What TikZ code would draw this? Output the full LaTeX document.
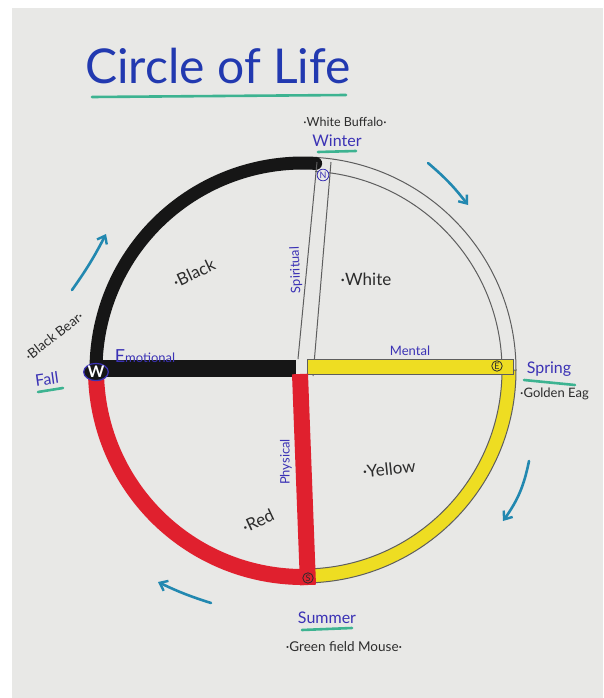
\documentclass[tikz,border=0pt]{standalone}
\usepackage{fontspec}
\setmainfont{Lato}
\usetikzlibrary{arrows.meta,shapes.geometric}
\definecolor{paper}{HTML}{E8E8E6}
\definecolor{ink}{HTML}{2C2C2C}
\definecolor{pen}{HTML}{3B32B5}
\definecolor{titleblue}{HTML}{2239B0}
\definecolor{hlteal}{HTML}{3DB391}
\definecolor{arrowblue}{HTML}{2288B0}
\definecolor{wheelred}{HTML}{E0202E}
\definecolor{wheelyellow}{HTML}{EEDD22}
\definecolor{ringgray}{HTML}{5E5E5E}
\definecolor{wheelblack}{HTML}{161616}
\tikzset{
  lbl/.style={font=\fontsize{14}{14}\selectfont, text=ink, inner sep=1pt},
  penlbl/.style={font=\fontsize{13}{13}\selectfont, text=pen, inner sep=1pt},
  season/.style={font=\fontsize{16}{16}\selectfont, text=pen, inner sep=1pt},
  uline/.style={hlteal, line width=2.6, line cap=round},
  turn/.style={arrowblue, line width=2.6, line cap=round, -{Straight Barb[length=7pt,width=11pt,line width=2.4pt]}},
  ringline/.style={ringgray, line width=1},
  dirmark/.style={circle, draw=ink, line width=0.8, inner sep=0.8pt, font=\fontsize{9}{9}\selectfont, text=ink},
}
\begin{document}
\begin{tikzpicture}[x=1pt,y=-1pt]
\useasboundingbox (0,0) rectangle (603,698);
\fill[white] (0,0) rectangle (603,698);
\fill[paper] (12,8) rectangle (603,698);
\coordinate (C) at (303,370);

% title
\node[font=\fontsize{48}{48}\selectfont, text=titleblue, inner sep=0] (title) at (218,66) {Circle of Life};
\coordinate (tu1) at (92,97); \coordinate (tu2) at (346,95);
\draw[uline] (tu1) -- (tu2);

% red outer band (west to south)
\fill[wheelred, shift={(C)}] (89:199) arc[start angle=89,end angle=180,radius=199]
  -- (180:215) arc[start angle=180,end angle=89,radius=215] -- cycle;
% yellow outer band (south to east)
\filldraw[fill=wheelyellow, draw=ringgray, line width=1, shift={(C)}] (0:199) arc[start angle=0,end angle=89,radius=199]
  -- (89:213) arc[start angle=89,end angle=0,radius=213] -- cycle;
% white outer band (north to east)
\draw[ringline, shift={(C)}] (273.5:199) arc[start angle=273.5,end angle=360,radius=199];
\draw[ringline, shift={(C)}] (273.5:213) arc[start angle=273.5,end angle=360,radius=213];
% black outer band (west to north)
\draw[wheelblack, line width=13, line cap=round, shift={(C)}] (180:207) arc[start angle=180,end angle=273.5,radius=207];

% spiritual (white) spoke
\coordinate (sp1) at (317,162); \coordinate (sp2) at (298,359);
\coordinate (sp3) at (331,162); \coordinate (sp4) at (313,376);
\draw[ringline] (sp1) -- (sp2);
\draw[ringline] (sp3) -- (sp4);
% mental (yellow) spoke
\filldraw[fill=wheelyellow, draw=ringgray, line width=1] (307,359) rectangle (513,374);
% emotional (black) spoke
\coordinate (em1) at (94,368); \coordinate (em2) at (296,368);
\draw[wheelblack, line width=17] (em1) -- (em2);
% physical (red) spoke
\coordinate (ph1) at (300,374); \coordinate (ph2) at (308,585);
\draw[wheelred, line width=16] (ph1) -- (ph2);

% direction marks
\node[circle, draw=pen, line width=0.8, inner sep=0.8pt, font=\fontsize{9}{9}\selectfont, text=pen, fill=paper] (mN) at (323,175) {N};
\node[dirmark] (mE) at (497,366) {E};
\node[dirmark] (mS) at (308,578) {S};
\node[ellipse, draw=pen, line width=1.2, fill=wheelblack, inner sep=0.3pt, font=\bfseries\fontsize{16}{16}\selectfont, text=white] (mW) at (96,372) {W};

% seasons
\node[lbl, font=\fontsize{12.5}{12.5}\selectfont] (buffalo) at (345,122) {·White Buffalo·};
\node[season] (winter) at (337,141) {Winter};
\coordinate (wu1) at (318,152); \coordinate (wu2) at (356,151);
\draw[uline] (wu1) -- (wu2);

\node[season] (spring) at (549,369) {Spring};
\coordinate (su1) at (524,380); \coordinate (su2) at (575,385);
\draw[uline] (su1) -- (su2);
\node[lbl, font=\fontsize{13}{13}\selectfont, anchor=west] (eagle) at (519,394) {·Golden Eag};

\node[season] (summer) at (327,618) {Summer};
\coordinate (mu1) at (302,630); \coordinate (mu2) at (352,628);
\draw[uline] (mu1) -- (mu2);
\node[lbl, font=\fontsize{13.5}{13.5}\selectfont] (mouse) at (344,647) {·Green field Mouse·};

\node[lbl, font=\fontsize{13.5}{13.5}\selectfont, rotate=38] (bear) at (54,336) {·Black Bear·};
\node[season, rotate=8] (fall) at (47,379) {Fall};
\coordinate (fu1) at (38,392); \coordinate (fu2) at (63,388);
\draw[uline] (fu1) -- (fu2);

% aspects
\node[penlbl, anchor=base] (emotional) at (145,362) {{\fontsize{18}{18}\selectfont E}motional};
\node[penlbl] (mental) at (410,351) {Mental};
\node[penlbl, rotate=92] (spiritual) at (296,270) {Spiritual};
\node[penlbl, rotate=90] (physical) at (286,462) {Physical};

% colours
\node[lbl, font=\fontsize{17}{17}\selectfont, rotate=25] (black) at (194,273) {·Black};
\node[lbl, font=\fontsize{17}{17}\selectfont] (white) at (366,279) {·White};
\node[lbl, font=\fontsize{17}{17}\selectfont, rotate=6] (yellow) at (389,469) {·Yellow};
\node[lbl, font=\fontsize{17}{17}\selectfont, rotate=25] (red) at (258,521) {·Red};

% direction of travel
\coordinate (a1s) at (428,163); \coordinate (a1e) at (468,205);
\draw[turn] (a1s) to[bend left=6] (a1e);
\coordinate (a2s) at (529,461); \coordinate (a2e) at (503,521);
\draw[turn] (a2s) to[bend left=12] (a2e);
\coordinate (a3s) at (211,603); \coordinate (a3e) at (158,582);
\draw[turn] (a3s) to[bend left=4] (a3e);
\coordinate (a4s) at (72,290); \coordinate (a4e) at (106,234);
\draw[turn] (a4s) to[bend right=4] (a4e);
\end{tikzpicture}
\end{document}
